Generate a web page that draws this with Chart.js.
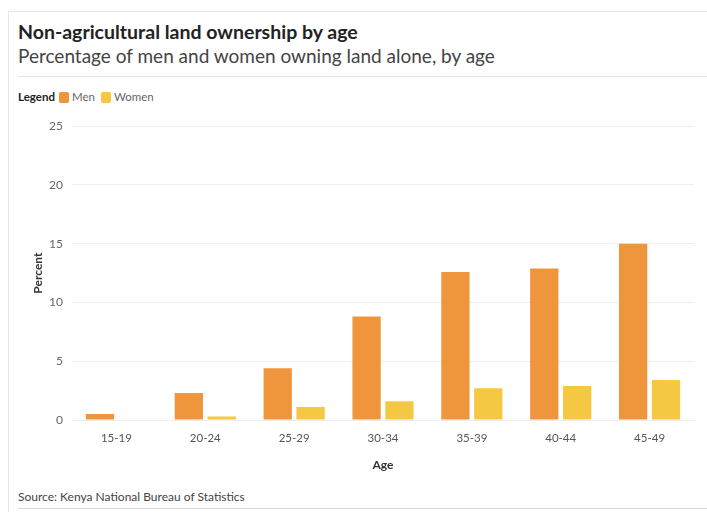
<!DOCTYPE html>
<html>
<head>
<meta charset="utf-8">
<script src="https://cdn.jsdelivr.net/npm/chart.js@4.4.0/dist/chart.umd.min.js"></script>
<style>
  body { margin: 0; background: #fff; font-family: "Lato", "Open Sans", sans-serif; }
  .frame { position: absolute; left: 8px; top: 11px; width: 720px; height: 520px; border-left: 1px solid #e6e6e6; border-top: 1px solid #e6e6e6; }
  .title { position: absolute; left: 18px; top: 20px; font-size: 19.5px; font-weight: bold; color: #222; white-space: nowrap; }
  .subtitle { position: absolute; left: 18px; top: 44px; font-size: 19px; color: #444; white-space: nowrap; }
  .rule { position: absolute; left: 18px; right: 0; top: 76px; border-top: 1px solid #e3e3e3; }
  .legend { position: absolute; left: 18px; top: 90px; font-size: 11.5px; color: #444; white-space: nowrap; }
  .legend b { color: #222; margin-right: 4px; }
  .legend .sw { display: inline-block; width: 10px; height: 11px; border-radius: 2px; vertical-align: -2px; margin-right: 3px; }
  .legend .item { margin-right: 6px; color: #666; }
  .source { position: absolute; left: 18px; top: 489px; font-size: 12px; color: #444; white-space: nowrap; }
  .rule2 { position: absolute; left: 18px; right: 0; top: 508px; border-top: 1px solid #d8d8d8; }
  #wrap { position: absolute; left: 10px; top: 110px; width: 690px; height: 366px; }
</style>
</head>
<body>
<div class="frame"></div>
<div class="title">Non-agricultural land ownership by age</div>
<div class="subtitle">Percentage of men and women owning land alone, by age</div>
<div class="rule"></div>
<div class="legend" id="legend"></div>
<div id="wrap"><canvas id="chart"></canvas></div>
<div class="source">Source: Kenya National Bureau of Statistics</div>
<div class="rule2"></div>
<script>
const ageGroups = ['15-19', '20-24', '25-29', '30-34', '35-39', '40-44', '45-49'];
const menValues = [0.5, 2.3, 4.4, 8.8, 12.6, 12.9, 15.0];
const womenValues = [0, 0.3, 1.1, 1.6, 2.7, 2.9, 3.4];
const yTicks = [0, 5, 10, 15, 20, 25];

const menColor = '#ef963c';
const womenColor = '#f5c844';

// simple html legend like the original
document.getElementById('legend').innerHTML =
  '<b>Legend</b>' +
  '<span class="sw" style="background:' + menColor + '"></span><span class="item">Men</span>' +
  '<span class="sw" style="background:' + womenColor + '"></span><span class="item">Women</span>';

const ctx = document.getElementById('chart').getContext('2d');
new Chart(ctx, {
  type: 'bar',
  data: {
    labels: ageGroups,
    datasets: [
      { label: 'Men', data: menValues, backgroundColor: menColor, categoryPercentage: 0.74, barPercentage: 0.86 },
      { label: 'Women', data: womenValues, backgroundColor: womenColor, categoryPercentage: 0.74, barPercentage: 0.86 }
    ]
  },
  options: {
    responsive: true,
    maintainAspectRatio: false,
    animation: false,
    layout: { padding: { top: 6, right: 6, left: 17, bottom: 0 } },
    plugins: {
      legend: { display: false },
      tooltip: { enabled: false }
    },
    scales: {
      x: {
        grid: { display: false },
        border: { color: '#eeeeee' },
        ticks: { color: '#555', font: { family: 'Lato', size: 11.5 }, padding: 3 },
        title: { display: true, text: 'Age', color: '#333', font: { family: 'Lato', size: 12, weight: 'bold' }, padding: { top: 10 } },
        afterFit: function (scale) { scale.height = 56; }
      },
      y: {
        min: 0,
        max: 25,
        afterBuildTicks: function (scale) { scale.ticks = yTicks.map(v => ({ value: v })); },
        grid: { color: '#efefef', drawTicks: false },
        border: { display: false },
        ticks: { color: '#666', font: { family: 'Lato', size: 12 }, padding: 9 },
        title: { display: true, text: 'Percent', color: '#333', font: { family: 'Lato', size: 12, weight: 'bold' } },
        afterFit: function (scale) { scale.width = 45; }
      }
    }
  }
});
</script>
</body>
</html>
